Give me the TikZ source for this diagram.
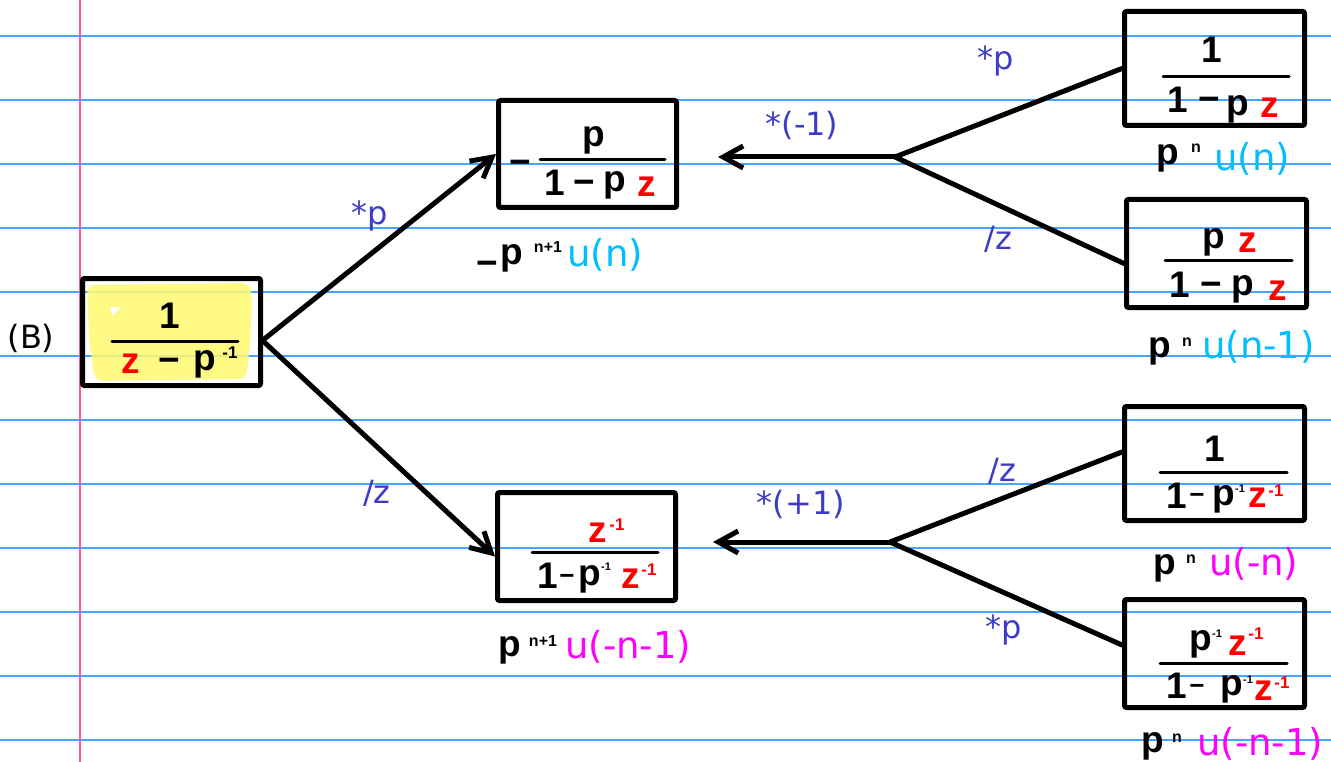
\documentclass[tikz,border=0pt]{standalone}
\usepackage{fontspec}
\setmainfont{DejaVu Sans}
\newfontfamily\hwfont{Liberation Sans}
\usetikzlibrary{arrows.meta}
\definecolor{ruleblue}{RGB}{70,165,255}
\definecolor{marginpink}{RGB}{255,90,170}
\definecolor{lblblue}{RGB}{60,60,200}
\definecolor{ucyan}{RGB}{0,190,255}
\definecolor{umag}{RGB}{255,0,255}
\definecolor{hred}{RGB}{255,0,0}
\definecolor{hlyellow}{RGB}{255,250,110}
\begin{document}
\begin{tikzpicture}[x=1pt,y=-1pt,
  box/.style={draw, line width=5pt, rounded corners=2pt, inner sep=0pt},
  hw/.style={font=\hwfont\bfseries\fontsize{37}{37}\selectfont, inner sep=0pt, anchor=base},
  hwm/.style={font=\hwfont\bfseries\fontsize{26}{26}\selectfont, inner sep=0pt, anchor=base},
  hws/.style={font=\hwfont\bfseries\fontsize{17}{17}\selectfont, inner sep=0pt, anchor=base},
  hwt/.style={font=\hwfont\bfseries\fontsize{11}{11}\selectfont, inner sep=0pt, anchor=base},
  hwn/.style={font=\hwfont\bfseries\fontsize{16}{16}\selectfont, inner sep=0pt, anchor=base},
  lbl/.style={text=lblblue, font=\fontsize{32}{32}\selectfont, inner sep=0pt, anchor=base},
  ulbl/.style={font=\fontsize{37}{37}\selectfont, inner sep=0pt, anchor=base west},
  bar/.style={line width=3pt, line cap=round},
  conn/.style={line width=5pt, line cap=round, line join=round},
  arr/.style={conn, -{Straight Barb[length=20pt,width=22pt]}}
]
\fill[white] (0,0) rectangle (1331,762);
\useasboundingbox (0,0) rectangle (1331,762);
\foreach \yy in {36,100,...,740} \draw[ruleblue, line width=1.5pt] (0,\yy) -- (1331,\yy);
\draw[marginpink, line width=1.5pt] (80,0) -- (80,762);

% highlight
\fill[hlyellow, opacity=0.85, rounded corners=8pt] (87,285) -- (250,283) -- (252,300) -- (250,345) -- (246,379) -- (95,381) -- (89,340) -- cycle;
\fill[white] (110,307) -- (121,307) -- (112,316) -- cycle;

% boxes
\node[box, minimum width=178pt, minimum height=107pt] (A) at (171.5,332) {};
\node[box, minimum width=178pt, minimum height=107pt] (B) at (587.5,154) {};
\node[box, minimum width=178pt, minimum height=108pt] (C) at (586.5,546.5) {};
\node[box, minimum width=180pt, minimum height=114pt] (D) at (1214.5,68.5) {};
\node[box, minimum width=180pt, minimum height=108pt] (E) at (1216.5,253.5) {};
\node[box, minimum width=180pt, minimum height=114pt] (F) at (1214.5,463.5) {};
\node[box, minimum width=180pt, minimum height=108pt] (G) at (1214.5,653.5) {};

% box A
\node[hw] (a1) at (170,328) {1};
\draw[bar] (112,341) -- (238,341);
\node[hw, text=hred] (a2) at (131,373) {z};
\node[hw] (a3) at (169,372) {−};
\node[hw] (a4) at (205,370) {p};
\node[hws] (a5) at (230,358) {-1};

% box B
\node[hw] (b0) at (520,175) {−};
\node[hw] (b1) at (594,147) {p};
\draw[bar] (540,160) -- (665,160);
\node[hw] (b2) at (555,196) {1};
\node[hw] (b3) at (584,195) {−};
\node[hw] (b4) at (615,192) {p};
\node[hw,text=hred] (b5) at (647,197) {z};

% box C
\node[hw,text=hred] (c1) at (598,542) {z};
\node[hws,text=hred] (c2) at (617,530) {-1};
\draw[bar] (532,552) -- (658,552);
\node[hw] (c3) at (548,588) {1};
\node[hwm] (c4) at (567,584) {−};
\node[hw] (c5) at (590,585) {p};
\node[hwt] (c6) at (606,570) {-1};
\node[hw,text=hred] (c7) at (631,588) {z};
\node[hws,text=hred] (c8) at (649,575) {-1};

% box D
\node[hw] (d1) at (1212,63) {1};
\draw[bar] (1163,77) -- (1289,77);
\node[hw] (d2) at (1178,113) {1};
\node[hw] (d3) at (1209,112) {−};
\node[hw] (d4) at (1238,116) {p};
\node[hw,text=hred] (d5) at (1270,118) {z};

% box E
\node[hw] (e1) at (1214,248) {p};
\node[hw,text=hred] (e2) at (1248,253) {z};
\draw[bar] (1165,261) -- (1292,261);
\node[hw] (e3) at (1180,298) {1};
\node[hw] (e4) at (1211,296) {−};
\node[hw] (e5) at (1243,295) {p};
\node[hw,text=hred] (e6) at (1278,301) {z};

% box F
\node[hw] (f1) at (1215,461) {1};
\draw[bar] (1160,472) -- (1287,472);
\node[hw] (f2) at (1177,508) {1};
\node[hwm] (f3) at (1197,503) {−};
\node[hw] (f4) at (1224,505) {p};
\node[hwt] (f5) at (1240,492) {-1};
\node[hw,text=hred] (f6) at (1258,507) {z};
\node[hws,text=hred] (f7) at (1276,496) {-1};

% box G
\node[hw] (g1) at (1201,650) {p};
\node[hwt] (g2) at (1217,637) {-1};
\node[hw,text=hred] (g3) at (1238,655) {z};
\node[hws,text=hred] (g4) at (1256,639) {-1};
\draw[bar] (1160,663) -- (1287,663);
\node[hw] (g5) at (1177,698) {1};
\node[hwm] (g6) at (1197,694) {−};
\node[hw] (g7) at (1232,695) {p};
\node[hwt] (g8) at (1248,683) {-1};
\node[hw,text=hred] (g9) at (1264,700) {z};
\node[hws,text=hred] (g10) at (1282,688) {-1};

% labels under boxes
\node[hw] (lb1) at (487,276) {−};
\node[hw] (lb2) at (512,265) {p};
\node[hwn] (lb3) at (548,253) {n+1};
\node[ulbl,text=ucyan] (lb4) at (567,267) {u(n)};

\node[hw] (lc1) at (510,656) {p};
\node[hwn] (lc2) at (543,646) {n+1};
\node[ulbl,text=umag] (lc3) at (565,658) {u(-n-1)};

\node[hw] (ld1) at (1168,165) {p};
\node[hwn] (ld2) at (1196,153) {n};
\node[ulbl,text=ucyan] (ld3) at (1214,171) {u(n)};

\node[hw] (le1) at (1160,357) {p};
\node[hwn] (le2) at (1187,346) {n};
\node[ulbl,text=ucyan] (le3) at (1202,358) {u(n-1)};

\node[hw] (lf1) at (1165,574) {p};
\node[hwn] (lf2) at (1191,563) {n};
\node[ulbl,text=umag] (lf3) at (1209,575) {u(-n)};

\node[hw] (lg1) at (1153,752) {p};
\node[hwn] (lg2) at (1177,742) {n};
\node[ulbl,text=umag] (lg3) at (1197,755) {u(-n-1)};

% operation labels
\node[lbl, text=black] (Blbl) at (31,348) {(B)};
\node[lbl] (o1) at (370,225) {*p};
\node[lbl] (o2) at (377,503) {/z};
\node[lbl] (o3) at (802,136) {*(-1)};
\node[lbl] (o4) at (996,70) {*p};
\node[lbl] (o5) at (998,250) {/z};
\node[lbl] (o6) at (801,514) {*(+1)};
\node[lbl] (o7) at (1002,481) {/z};
\node[lbl] (o8) at (1004,638) {*p};

% connectors
\coordinate (j1) at (895,157);
\coordinate (j2) at (890,542);
\draw[arr] ([yshift=-8pt]A.east) -- (B.west);
\draw[arr] ([yshift=-9pt]A.east) -- ([yshift=-10pt]C.west);
\draw[conn] (D.west) -- (j1) -- ([yshift=-10pt]E.west);
\draw[arr, shorten >=39pt] (j1) -- (j1 -| B.east);
\draw[conn] ([yshift=11.5pt]F.west) -- (j2) -- ([yshift=8.5pt]G.west);
\draw[arr, shorten >=35pt] (j2) -- (j2 -| C.east);
\end{tikzpicture}
\end{document}
